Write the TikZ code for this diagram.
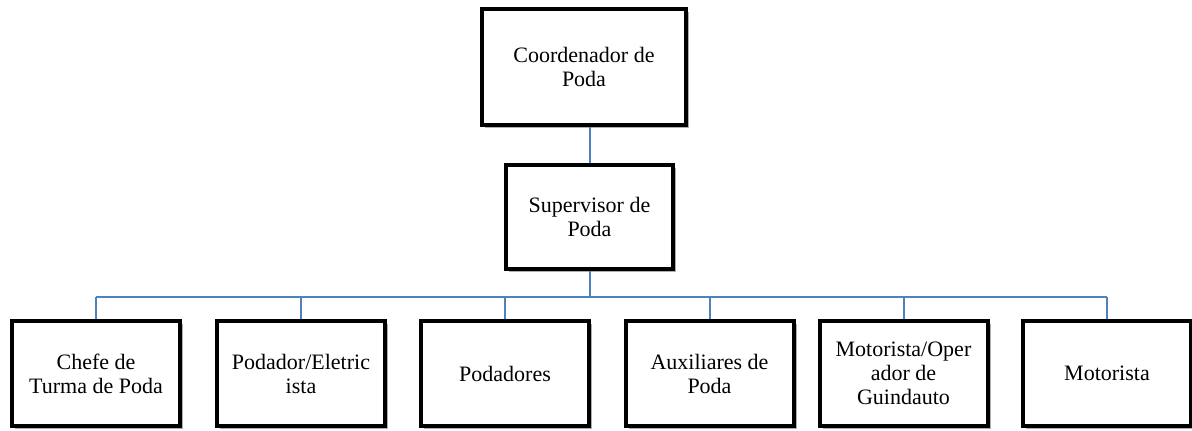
\documentclass[tikz,border=0pt]{standalone}
\usepackage{fontspec}
\setmainfont{Liberation Serif}
\usetikzlibrary{shadows}
\definecolor{linkblue}{HTML}{4F81BD}
\tikzset{
  orgbox/.style={draw=black, line width=3pt, fill=white, align=center,
    font=\fontsize{16.5pt}{18pt}\selectfont, inner sep=2pt,
    drop shadow={shadow xshift=2.5pt, shadow yshift=-2.5pt, fill=black!45, opacity=0.7}},
  leafbox/.style={orgbox, minimum width=126pt, minimum height=78.75pt},
  link/.style={draw=linkblue, line width=1.5pt}
}
\begin{document}
\begin{tikzpicture}[x=0.75pt, y=-0.75pt]
\useasboundingbox (0,0) rectangle (1192,431);
\node[orgbox, minimum width=153pt, minimum height=87pt] (top) at (584,67) {Coordenador de\\Poda};
\node[orgbox, minimum width=125.25pt, minimum height=78pt] (sup) at (589.5,217) {Supervisor de\\Poda};
\node[leafbox] (c1) at (96,373.5) {Chefe de\\Turma de Poda};
\node[leafbox] (c2) at (301,373.5) {Podador/Eletric\\ista};
\node[leafbox] (c3) at (505,373.5) {Podadores};
\node[leafbox] (c4) at (709.5,373.5) {Auxiliares de\\Poda};
\node[leafbox] (c5) at (903.5,373.5) {Motorista/Oper\\ador de\\Guindauto};
\node[leafbox] (c6) at (1107,373.5) {Motorista};
\coordinate (bus) at (589.5,297);
\draw[link] (sup.north) -- (sup.north |- top.south);
\draw[link] (sup.south) -- (bus);
\draw[link] (c1.north |- bus) -- (c6.north |- bus);
\foreach \c in {c1,c2,c3,c4,c5,c6} {
  \draw[link] (\c.north) -- (\c.north |- bus);
}
\end{tikzpicture}
\end{document}
